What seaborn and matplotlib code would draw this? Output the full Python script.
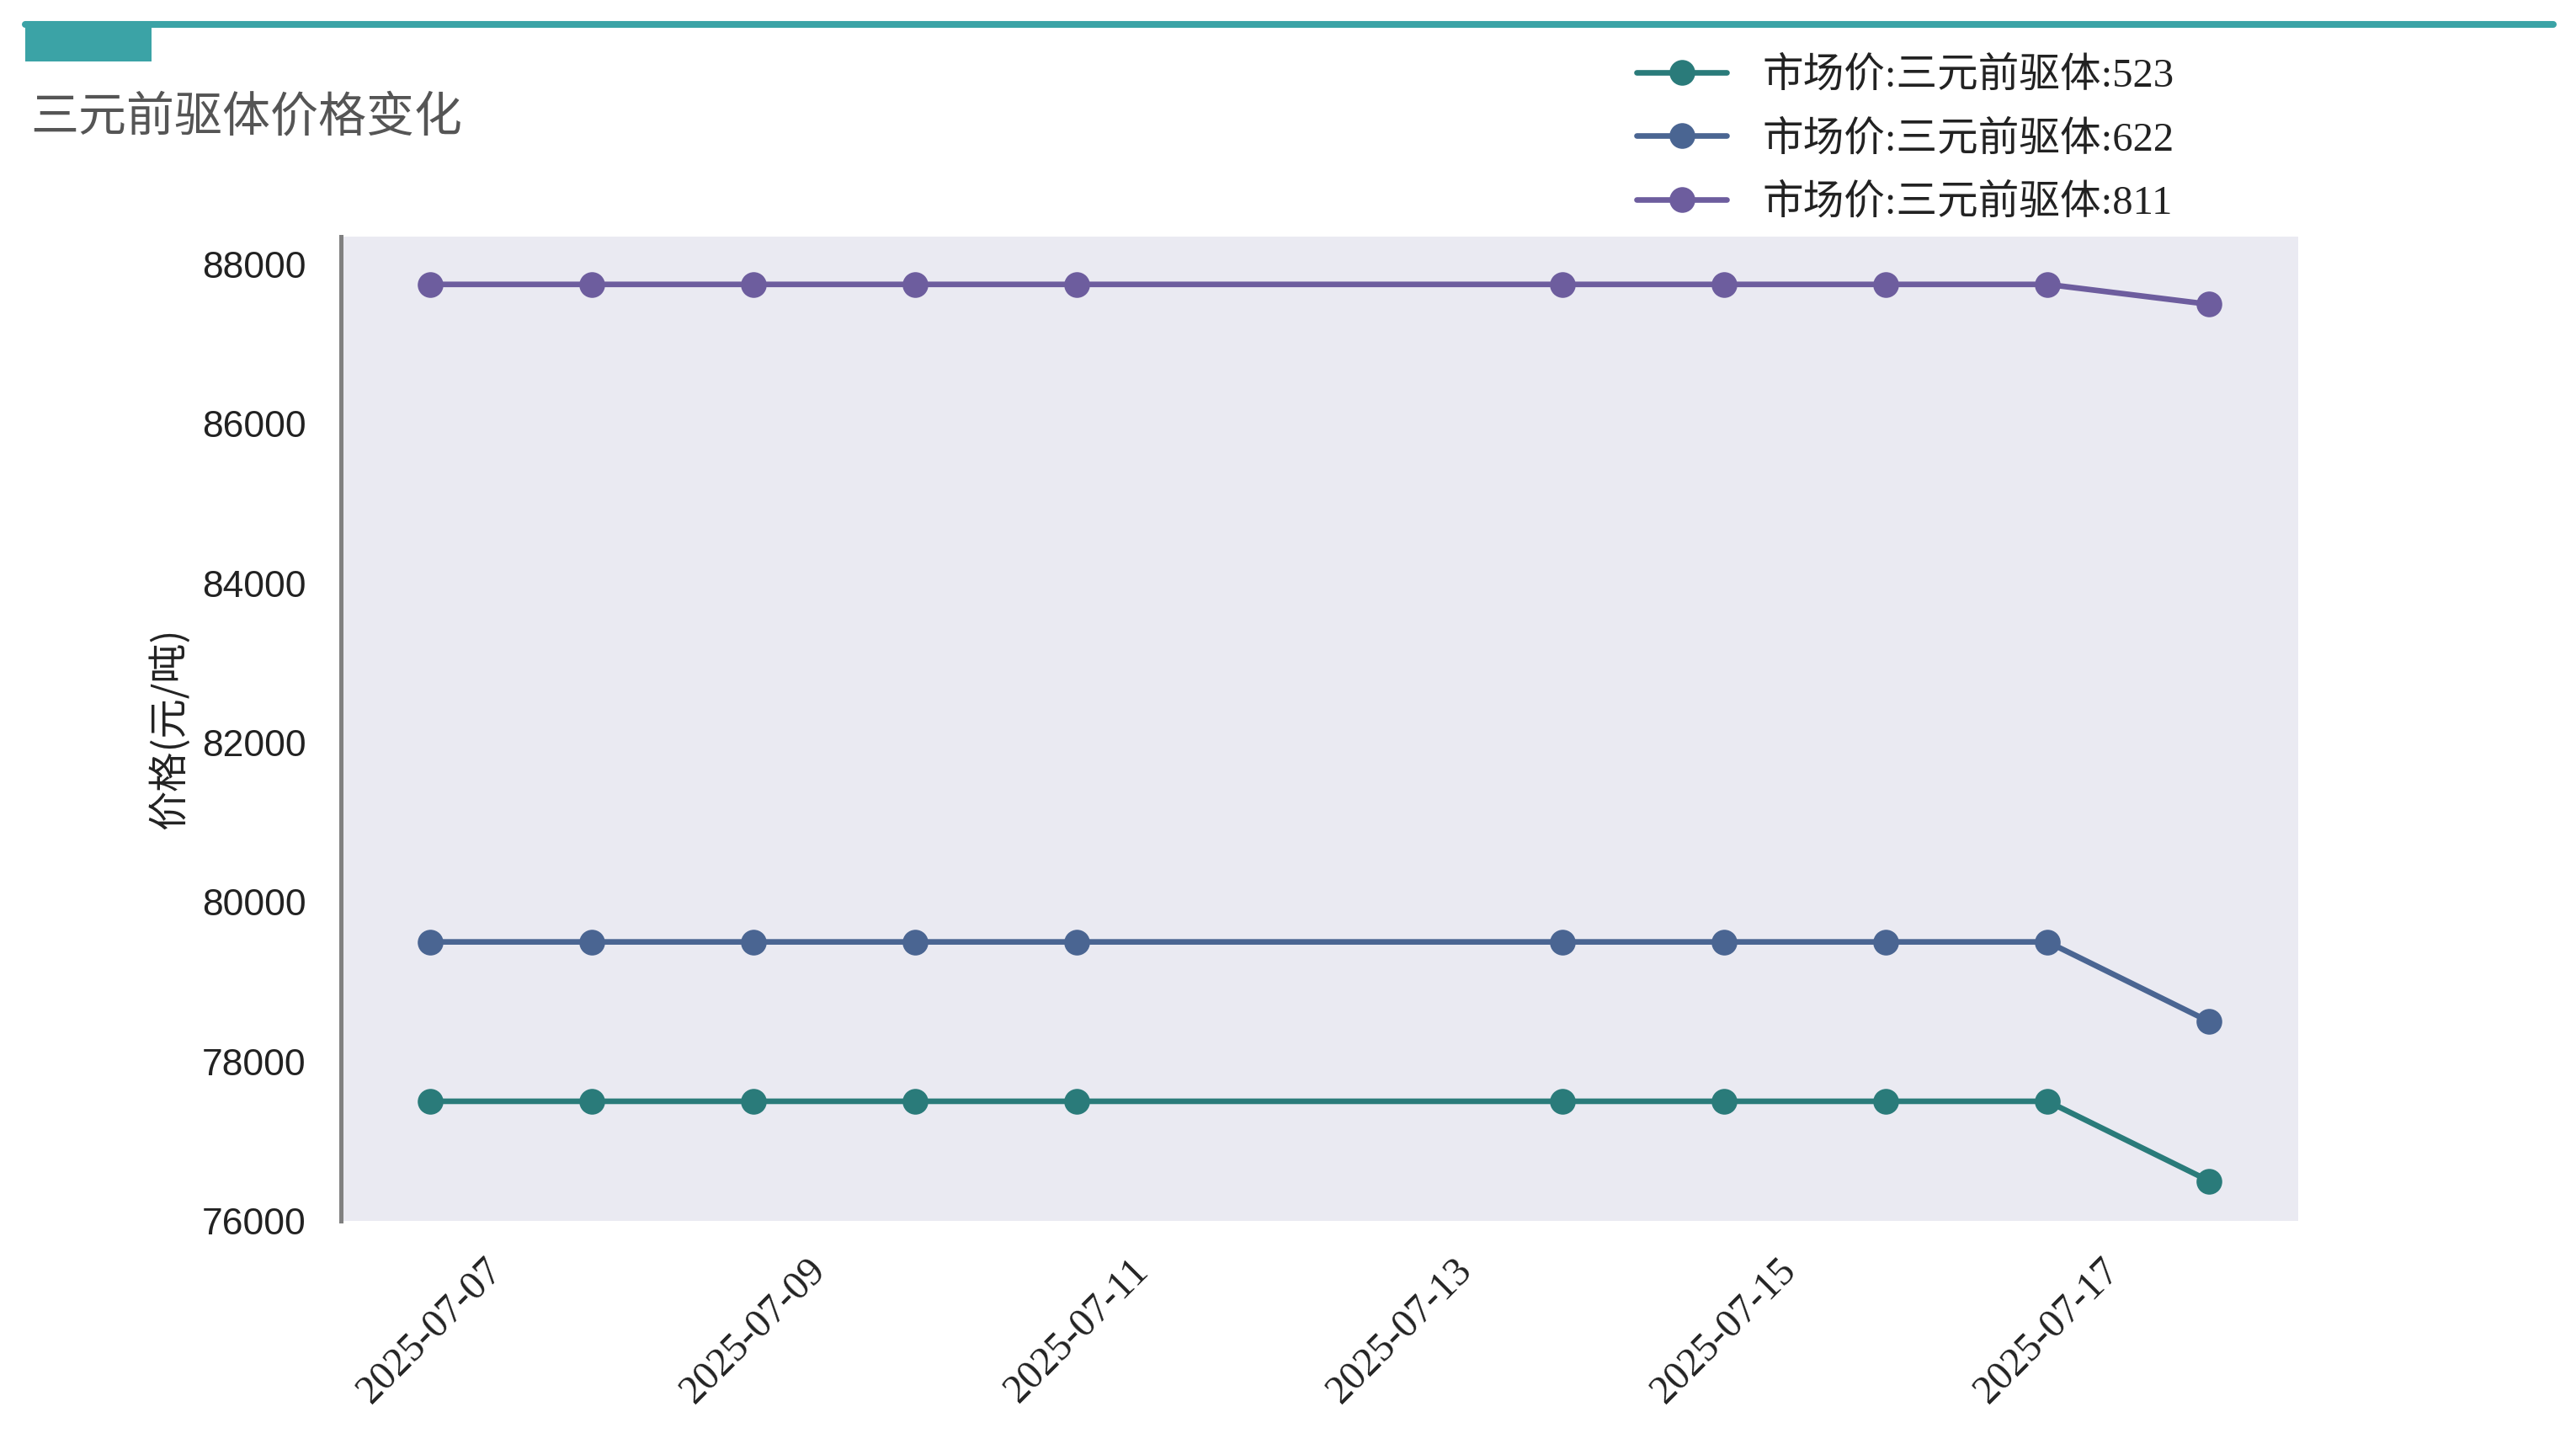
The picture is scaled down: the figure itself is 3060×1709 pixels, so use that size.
import matplotlib
matplotlib.use("Agg")
import matplotlib.pyplot as plt
import matplotlib.dates as mdates
from matplotlib.patches import Rectangle
from matplotlib.lines import Line2D
import seaborn as sns
import pandas as pd

# data
dates = ["2025-07-07", "2025-07-08", "2025-07-09", "2025-07-10", "2025-07-11",
         "2025-07-14", "2025-07-15", "2025-07-16", "2025-07-17", "2025-07-18"]
series_names = ["市场价:三元前驱体:523", "市场价:三元前驱体:622", "市场价:三元前驱体:811"]
price_523 = [77500, 77500, 77500, 77500, 77500, 77500, 77500, 77500, 77500, 76500]
price_622 = [79500, 79500, 79500, 79500, 79500, 79500, 79500, 79500, 79500, 78500]
price_811 = [87750, 87750, 87750, 87750, 87750, 87750, 87750, 87750, 87750, 87500]
y_ticks = [76000, 78000, 80000, 82000, 84000, 86000, 88000]

title = "三元前驱体价格变化"
ylabel = "价格(元/吨)"
colors = ["#2A7B7A", "#4A6592", "#6D5D9E"]
accent = "#3BA3A6"

sns.set_theme(style="dark")
plt.rcParams["font.family"] = ["Liberation Serif", "Noto Sans CJK SC", "DejaVu Sans"]
plt.rcParams["axes.unicode_minus"] = False

fig = plt.figure(figsize=(15.3, 8.545), dpi=200)
fig.patch.set_facecolor("white")
ax = fig.add_axes([0.1324, 0.1516, 0.8922 - 0.1324, 0.8356 - 0.1516])
ax.set_facecolor("#EAEAF2")

x = pd.to_datetime(dates)
for name, vals, c in zip(series_names, [price_523, price_622, price_811], colors):
    sns.lineplot(x=x, y=vals, ax=ax, color=c, label=name, marker="o",
                 markersize=11, markeredgewidth=0, linewidth=2.4)

ax.set_ylim(76000, 88350)
ax.set_yticks(y_ticks)
ax.xaxis.set_major_locator(mdates.DayLocator(bymonthday=range(1, 32, 2)))
ax.xaxis.set_major_formatter(mdates.DateFormatter("%Y-%m-%d"))
ax.grid(False)

for s in ["top", "right", "bottom"]:
    ax.spines[s].set_visible(False)
ax.spines["left"].set_color("#808080")
ax.spines["left"].set_linewidth(1.8)

ax.tick_params(axis="y", length=0, pad=15, labelsize=16)
ax.tick_params(axis="x", length=0, pad=13, labelsize=17.2)
for lab in ax.get_yticklabels():
    lab.set_fontfamily("Liberation Sans")
    lab.set_color("#222222")
for lab in ax.get_xticklabels():
    lab.set_rotation(45)
    lab.set_ha("center")
    lab.set_color("#222222")

ax.set_xlabel("")
ax.set_ylabel(ylabel, fontsize=17, family=["Noto Sans CJK SC"], color="#222222", labelpad=5)

handles, labels = ax.get_legend_handles_labels()
leg = fig.legend(handles, labels, loc="upper left", bbox_to_anchor=(0.6275, 0.975),
                 frameon=False, fontsize=17.5, handlelength=2.2, handletextpad=0.86,
                 labelspacing=0.62, borderpad=0)
for t in leg.get_texts():
    t.set_color("#222222")
if ax.get_legend() is not None:
    ax.get_legend().remove()

# header decoration
fig.add_artist(Line2D([30 / 3060, 3033 / 3060], [1 - 29 / 1709, 1 - 29 / 1709],
                      color=accent, linewidth=2.9, solid_capstyle="round",
                      transform=fig.transFigure))
fig.add_artist(Rectangle((30 / 3060, 1 - 73 / 1709), 150 / 3060, 40 / 1709,
                         color=accent, transform=fig.transFigure, linewidth=0))
fig.text(36 / 3060, 1 - 139 / 1709, title, fontsize=20.5, color="#555555",
         family=["Noto Sans CJK SC"], ha="left", va="center")

fig.savefig("out.png", dpi=200, facecolor="white")
